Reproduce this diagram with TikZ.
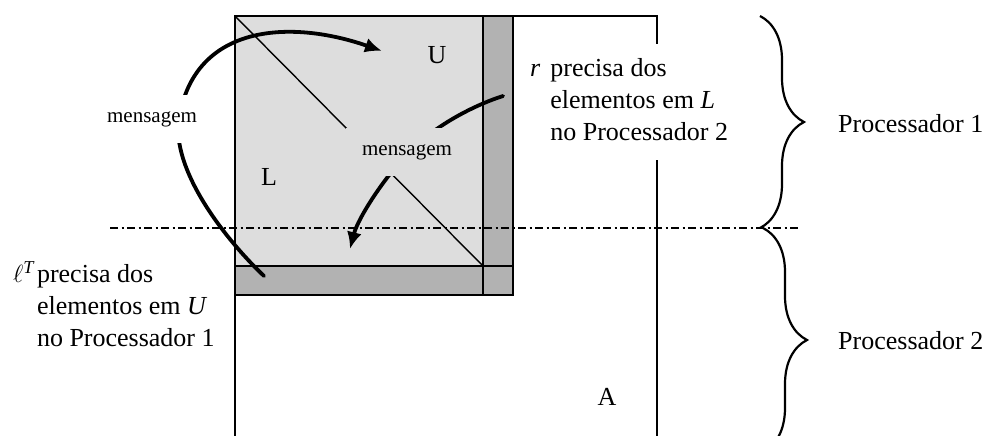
\documentclass[tikz,border=0pt]{standalone}
\usepackage{amsmath}
\usepackage{fontspec}
\setmainfont{Liberation Serif}
\usepackage{tikz}
\usetikzlibrary{arrows.meta, decorations.pathreplacing}

\definecolor{blockL}{HTML}{DDDDDD}
\definecolor{blockD}{HTML}{B2B2B2}

\tikzset{
    txt/.style={font=\fontsize{26}{32}\selectfont, inner sep=0pt},
    msgtxt/.style={font=\fontsize{21}{25}\selectfont, inner sep=16pt},
    msg/.style={line width=3.8pt, line cap=round},
    msghead/.style={msg, -{Latex[length=17pt, width=15pt]}},
    frame/.style={line width=2.1pt},
    procbrace/.style={decorate, decoration={brace, amplitude=44pt}, line width=2.2pt},
}

\begin{document}
\begin{tikzpicture}[x=1pt, y=-1pt]
    \useasboundingbox (0,0) rectangle (988,436);

    % Blocks: diagonal block, column r and row l^T
    \fill[blockL] (235,16) rectangle (483,266);
    \fill[blockD] (483,16) rectangle (513,295) (235,266) rectangle (513,295);
    \draw[line width=1.1pt] (483,266) -- (483,295) (483,266) -- (513,266);
    \draw[frame] (235,16) rectangle (483,266);
    \draw[frame] (483,16) -| (513,295) -| (235,266);

    % Matrix A
    \draw[frame] (235,450) -- (235,16) -- (657,16) -- (657,450);
    \draw[line width=1.4pt] (235,16) -- (483,266);

    % Split between the processors
    \draw[line width=1.5pt, dash pattern=on 8pt off 3.5pt on 2pt off 3.5pt] (110,228) -- (800,228);

    % Messages
    \coordinate (lT) at (264,276);
    \coordinate (uIn) at (382,51);
    \coordinate (rS) at (503,96);
    \coordinate (lIn) at (350,249);
    \coordinate (bendL) at (179,119);
    \coordinate (bendC) at (411,150);

    \draw[msghead] (lT) .. controls (224,238) and (171,169) .. (bendL)
        .. controls (194,24) and (290,19) .. (uIn);
    \draw[msghead] (rS) .. controls (478,104) and (440,122) .. (bendC)
        .. controls (385,176) and (358,218) .. (lIn);

    \node[msgtxt, fill=white] (msgL) at (152,119) {mensagem};
    \node[msgtxt, fill=blockL] (msgC) at (407,152) {mensagem};

    % Block names
    \node[txt] (U) at (437,55) {U};
    \node[txt] (L) at (269,177) {L};
    \node[txt] (A) at (607,397) {A};

    % What each part needs
    \node[txt, anchor=north west, fill=white, inner xsep=4pt, inner ysep=10pt] (needL) at (526,43.6)
        {\begin{tabular}{@{}l@{\hspace{10pt}}l@{}}\textit{r} & precisa dos\\ & elementos em \textit{L}\\ & no Processador 2\end{tabular}};
    \node[txt, anchor=north west] (needU) at (13,259.6)
        {\begin{tabular}{@{}l@{\hspace{3pt}}l@{}}$\ell^{\textit{T}}$ & precisa dos\\ & elementos em \textit{U}\\ & no Processador 1\end{tabular}};

    % Processors
    \draw[procbrace] (760,16) -- (760,228);
    \draw[procbrace] (763,228) -- (763,452);
    \node[txt, anchor=base west] (P1) at (838,132) {Processador 1};
    \node[txt, anchor=base west] (P2) at (838,349) {Processador 2};
\end{tikzpicture}
\end{document}
